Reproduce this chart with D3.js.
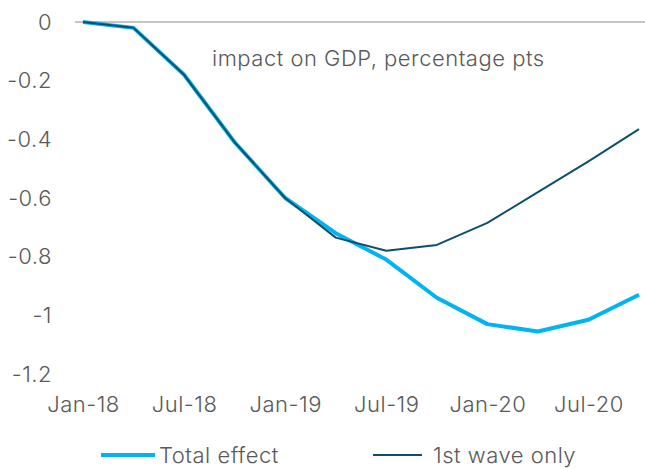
<!DOCTYPE html>
<html>
<head>
<meta charset="utf-8">
<script src="https://cdn.jsdelivr.net/npm/d3@7"></script>
<style>
  html, body { margin: 0; padding: 0; background: #fff; }
  svg text { font-family: Inter, Roboto, sans-serif; font-weight: 300; fill: #595959; letter-spacing: 0.5px; }
</style>
</head>
<body>
<svg id="chart" width="645" height="468"></svg>
<script>
// Quarterly periods, Jan-18 to Oct-20
const periods = ["Jan-18", "Apr-18", "Jul-18", "Oct-18", "Jan-19", "Apr-19",
                 "Jul-19", "Oct-19", "Jan-20", "Apr-20", "Jul-20", "Oct-20"];
const tickLabels = ["Jan-18", "Jul-18", "Jan-19", "Jul-19", "Jan-20", "Jul-20"];
const yTicks = [0, -0.2, -0.4, -0.6, -0.8, -1, -1.2];

// Impact on GDP, percentage points
const totalEffect = [0, -0.02, -0.18, -0.41, -0.60, -0.72, -0.81, -0.94, -1.03, -1.055, -1.015, -0.93];
const firstWave   = [0, -0.02, -0.18, -0.41, -0.60, -0.735, -0.78, -0.76, -0.685, -0.58, -0.475, -0.365];

const seriesNames = ["Total effect", "1st wave only"];
const seriesColors = ["#00B4F1", "#0D4F6B"];
const seriesWidths = [4, 2];

const svg = d3.select("#chart");

const x = d3.scalePoint().domain(periods).range([83, 639]);
const y = d3.scaleLinear().domain([-1.2, 0]).range([374, 22]);

// zero line
svg.append("line")
  .attr("x1", 75).attr("x2", 645)
  .attr("y1", y(0)).attr("y2", y(0))
  .attr("stroke", "#8c8c8c").attr("stroke-width", 1.2);

// y axis labels
const yAxis = d3.axisLeft(y).tickValues(yTicks).tickSize(0).tickPadding(0)
  .tickFormat(d => d === 0 ? "0" : String(d));
const gy = svg.append("g").attr("transform", "translate(52,0)").call(yAxis);
gy.select(".domain").remove();
gy.selectAll("text").style("font-size", "22px").attr("fill", "#595959")
  .style("font-family", null);

// x axis labels
const xAxis = d3.axisBottom(x).tickValues(tickLabels).tickSize(0).tickPadding(0);
const gx = svg.append("g").attr("transform", "translate(0,396)").call(xAxis);
gx.select(".domain").remove();
gx.selectAll("text").style("font-size", "22px").attr("fill", "#595959")
  .style("font-family", null);

// annotation
svg.append("text")
  .attr("x", 212).attr("y", 66)
  .style("font-size", "22px")
  .text("impact on GDP, percentage pts");

const line = d3.line().x((d, i) => x(periods[i])).y(d => y(d));

[totalEffect, firstWave].forEach((vals, k) => {
  svg.append("path")
    .datum(vals)
    .attr("d", line)
    .attr("fill", "none")
    .attr("stroke", seriesColors[k])
    .attr("stroke-width", seriesWidths[k])
    .attr("stroke-linejoin", "round");
});

// legend
const legendPos = [{lx: 101, tx: 159}, {lx: 373, tx: 433}];
const lg = svg.append("g");
seriesNames.forEach((name, k) => {
  lg.append("line")
    .attr("x1", legendPos[k].lx).attr("x2", legendPos[k].lx + (k === 0 ? 54 : 49))
    .attr("y1", 455).attr("y2", 455)
    .attr("stroke", seriesColors[k])
    .attr("stroke-width", seriesWidths[k]);
  lg.append("text")
    .attr("x", legendPos[k].tx).attr("y", 463)
    .style("font-size", "22px")
    .text(name);
});
</script>
</body>
</html>
